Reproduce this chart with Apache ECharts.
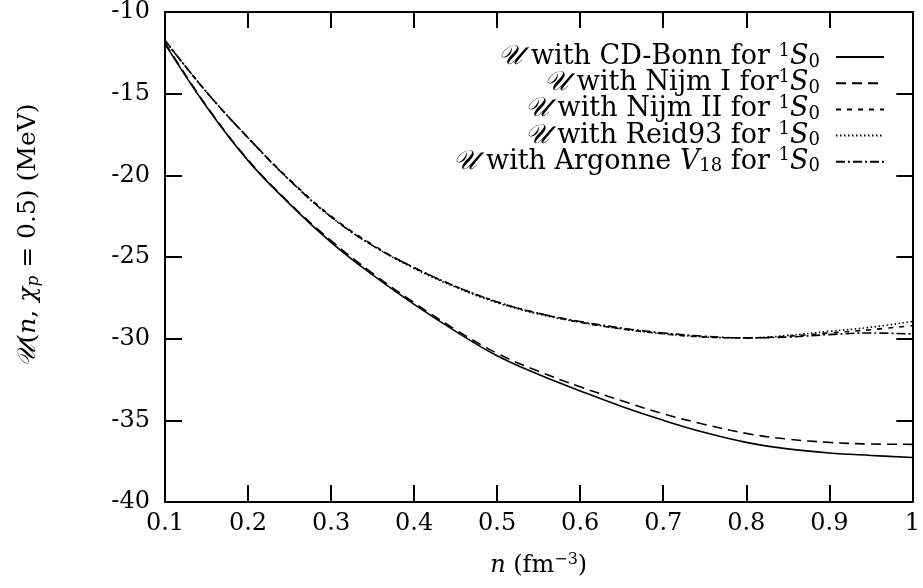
<!DOCTYPE html>
<html>
<head>
<meta charset="utf-8">
<script src="https://cdn.jsdelivr.net/npm/echarts@6/dist/echarts.min.js"></script>
<style>
  html, body { margin: 0; padding: 0; background: #fff; }
  #chart { width: 923px; height: 588px; }
</style>
</head>
<body>
<div id="chart"></div>
<script>
// Baryon density n (fm^-3)
const density = [0.1, 0.15, 0.2, 0.25, 0.3, 0.35, 0.4, 0.45, 0.5, 0.55,
                 0.6, 0.65, 0.7, 0.75, 0.8, 0.85, 0.9, 0.95, 1.0];

// U(n, chi_p = 0.5) in MeV for each 1S0 interaction
const cdBonn  = [-11.95, -15.8, -19.1, -21.75, -24.1, -26.1, -27.9, -29.55, -31.05, -32.2,
                 -33.2, -34.15, -35.0, -35.75, -36.35, -36.75, -37.0, -37.15, -37.28];
const nijmI   = [-11.9, -15.75, -19.05, -21.7, -24.0, -26.0, -27.8, -29.45, -30.9, -32.0,
                 -32.95, -33.8, -34.6, -35.25, -35.8, -36.15, -36.35, -36.45, -36.47];
const nijmII  = [-11.74, -14.9, -17.7, -20.25, -22.5, -24.25, -25.65, -26.8, -27.75, -28.45,
                 -29.0, -29.4, -29.7, -29.9, -29.95, -29.85, -29.65, -29.45, -29.2];
const reid93  = [-11.74, -14.9, -17.7, -20.3, -22.55, -24.3, -25.7, -26.85, -27.8, -28.5,
                 -29.0, -29.4, -29.7, -29.9, -29.95, -29.8, -29.55, -29.3, -28.95];
const argonne = [-11.74, -14.9, -17.7, -20.3, -22.55, -24.3, -25.65, -26.8, -27.75, -28.45,
                 -28.95, -29.35, -29.65, -29.85, -29.95, -29.9, -29.75, -29.65, -29.72];

// Axis ranges and ticks
const xTicks = { min: 0.1, max: 1.0, step: 0.1 };
const yTicks = { min: -40, max: -10, step: 5 };

// Legend entries (rich-text markup)
const legendNames = [
  '{u|𝒰} with CD-Bonn for {sup|1}{it|S}{sub|0}',
  '{u|𝒰} with Nijm I for{sup|1}{it|S}{sub|0}',
  '{u|𝒰} with Nijm II for {sup|1}{it|S}{sub|0}',
  '{u|𝒰} with Reid93 for {sup|1}{it|S}{sub|0}',
  '{u|𝒰} with Argonne {it|V}{sub|18} for {sup|1}{it|S}{sub|0}'
];
const seriesValues = [cdBonn, nijmI, nijmII, reid93, argonne];
const dashStyles = ['solid', [10, 6], [5, 6], [1.5, 2.5], [9, 3, 2, 3]];

const FONT = 'DejaVu Serif';

// Rich-text styles for math-like labels at a given base size
function makeRich(size) {
  const small = Math.round(size * 0.66);
  return {
    u:     { fontFamily: FONT, fontSize: size, fontStyle: 'italic', color: '#000' },
    it:    { fontFamily: FONT, fontSize: size, fontStyle: 'italic', color: '#000' },
    sup:   { fontFamily: FONT, fontSize: small, color: '#000', padding: [0, 0, 12, 0] },
    sub:   { fontFamily: FONT, fontSize: small, color: '#000', padding: [10, 0, 0, 0] },
    subit: { fontFamily: FONT, fontSize: small, fontStyle: 'italic', color: '#000', padding: [10, 0, 0, 0] }
  };
}

const chart = echarts.init(document.getElementById('chart'), null, { renderer: 'canvas' });

const axisLine = { show: true, lineStyle: { color: '#000', width: 2 } };
const tickStyle = { color: '#000', width: 2 };

chart.setOption({
  animation: false,
  backgroundColor: '#fff',
  textStyle: { fontFamily: FONT, color: '#000' },
  grid: { left: 165, right: 6, top: 11, bottom: 86 },
  legend: {
    orient: 'vertical',
    right: 38,
    top: 42,
    align: 'right',
    padding: 0,
    itemGap: -3.3,
    itemWidth: 48,
    itemHeight: 14,
    itemStyle: { color: 'rgba(0,0,0,0)', borderWidth: 0, opacity: 0 },
    data: legendNames,
    textStyle: {
      fontFamily: FONT, fontSize: 27, color: '#000', lineHeight: 29,
      padding: [0, 11, 0, 0], rich: makeRich(27)
    }
  },
  xAxis: [{
    type: 'value',
    min: xTicks.min, max: xTicks.max, interval: xTicks.step,
    position: 'bottom',
    axisLine: axisLine,
    axisTick: { inside: true, length: 17, lineStyle: tickStyle },
    splitLine: { show: false },
    axisLabel: {
      margin: 10, fontFamily: FONT, fontSize: 24, color: '#000',
      formatter: v => String(Math.round(v * 10) / 10)
    },
    name: '{it|n} (fm{sup|−3})',
    nameLocation: 'middle',
    nameGap: 50,
    nameTextStyle: { fontFamily: FONT, fontSize: 24, color: '#000', rich: makeRich(24) }
  }, {
    type: 'value',
    min: xTicks.min, max: xTicks.max, interval: xTicks.step,
    position: 'top',
    axisLine: axisLine,
    axisTick: { inside: true, length: 16, lineStyle: tickStyle },
    axisLabel: { show: false },
    splitLine: { show: false }
  }],
  yAxis: [{
    type: 'value',
    min: yTicks.min, max: yTicks.max, interval: yTicks.step,
    position: 'left',
    axisLine: axisLine,
    axisTick: { inside: true, length: 17, lineStyle: tickStyle },
    splitLine: { show: false },
    axisLabel: { margin: 15, fontFamily: FONT, fontSize: 24, color: '#000' },
    name: '{u|𝒰}({it|n}, {it|χ}{subit|p} = 0.5) (MeV)',
    nameLocation: 'middle',
    nameRotate: 90,
    nameGap: 123,
    nameTextStyle: {
      fontFamily: FONT, fontSize: 25, color: '#000',
      padding: [0, 0, 0, 44], rich: makeRich(25)
    }
  }, {
    type: 'value',
    min: yTicks.min, max: yTicks.max, interval: yTicks.step,
    position: 'right',
    axisLine: axisLine,
    axisTick: { inside: true, length: 16, lineStyle: tickStyle },
    axisLabel: { show: false },
    splitLine: { show: false }
  }],
  series: legendNames.map((name, i) => ({
    name: name,
    type: 'line',
    xAxisIndex: 0,
    yAxisIndex: 0,
    smooth: 0.4,
    showSymbol: false,
    symbol: 'none',
    lineStyle: { color: '#000', width: 1.6, type: dashStyles[i] },
    itemStyle: { color: '#000' },
    data: density.map((x, j) => [x, seriesValues[i][j]])
  }))
});
</script>
</body>
</html>
